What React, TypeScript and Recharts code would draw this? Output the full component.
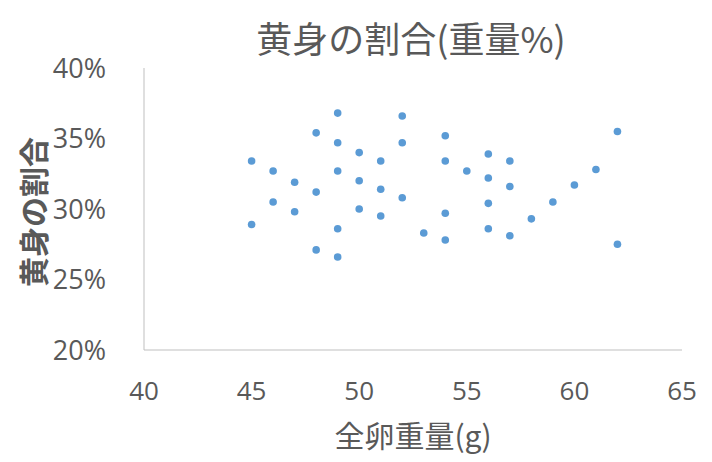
import { ScatterChart, Scatter, XAxis, YAxis, Label } from "recharts";

// 全卵重量(g) と 黄身の割合(%) の組
const eggWeight = [
  45, 45, 46, 46, 47, 47, 48, 48, 48, 49, 49, 49, 49, 49, 50, 50, 50, 51, 51, 51,
  52, 52, 52, 53, 54, 54, 54, 54, 55, 56, 56, 56, 56, 57, 57, 57, 58, 59, 60, 61,
  62, 62,
];
const yolkRatio = [
  33.4, 28.9, 32.7, 30.5, 31.9, 29.8, 35.4, 31.2, 27.1, 36.8, 34.7, 32.7, 28.6, 26.6,
  34.0, 32.0, 30.0, 33.4, 31.4, 29.5, 36.6, 34.7, 30.8, 28.3, 35.2, 33.4, 29.7, 27.8,
  32.7, 33.9, 32.2, 30.4, 28.6, 33.4, 31.6, 28.1, 29.3, 30.5, 31.7, 32.8, 35.5, 27.5,
];
const xTicks = [40, 45, 50, 55, 60, 65];
const yTicks = [20, 25, 30, 35, 40];

const data = eggWeight.map((w, i) => ({ w, r: yolkRatio[i] }));

const gray = "#595959";
const sans = "'Open Sans', sans-serif";
const jp = "'Noto Sans CJK JP', sans-serif";

const Dot = (props: any) => (
  <circle cx={props.cx} cy={props.cy} r={3.8} fill="#5B9BD5" />
);

export default function App() {
  return (
    <div style={{ position: "absolute", left: 0, top: 0, width: 712, height: 462, background: "#fff" }}>
      <div
        style={{
          position: "absolute",
          left: 0,
          top: 13,
          width: 822,
          textAlign: "center",
          fontFamily: jp,
          fontSize: 36,
          color: gray,
          lineHeight: "48px",
        }}
      >
        黄身の割合(重量%)
      </div>
      <ScatterChart width={712} height={462} margin={{ top: 68, right: 30, bottom: 0, left: 0 }}>
        <XAxis
          type="number"
          dataKey="w"
          domain={[40, 65]}
          ticks={xTicks}
          tick={{ fontFamily: sans, fontSize: 26, fill: gray }}
          tickLine={false}
          axisLine={{ stroke: "#BFBFBF" }}
          tickMargin={26}
          height={112}
        >
          <Label
            content={() => (
              <text x={413} y={434} textAnchor="middle" dominantBaseline="central" fontFamily={jp} fontSize={30} fill={gray}>
                全卵重量(g)
              </text>
            )}
          />
        </XAxis>
        <YAxis
          type="number"
          dataKey="r"
          domain={[20, 40]}
          ticks={yTicks}
          tickFormatter={(v: number) => `${v}%`}
          tick={{ fontFamily: sans, fontSize: 27, fill: gray }}
          tickLine={false}
          axisLine={{ stroke: "#BFBFBF" }}
          tickMargin={32}
          width={144}
        >
          <Label
            content={() => (
              <text
                x={32}
                y={212}
                transform="rotate(-90, 32, 212)"
                textAnchor="middle"
                dominantBaseline="central"
                fontFamily={jp}
                fontSize={30}
                fontWeight="bold"
                fill={gray}
              >
                黄身の割合
              </text>
            )}
          />
        </YAxis>
        <Scatter data={data} shape={Dot} isAnimationActive={false} />
      </ScatterChart>
    </div>
  );
}
